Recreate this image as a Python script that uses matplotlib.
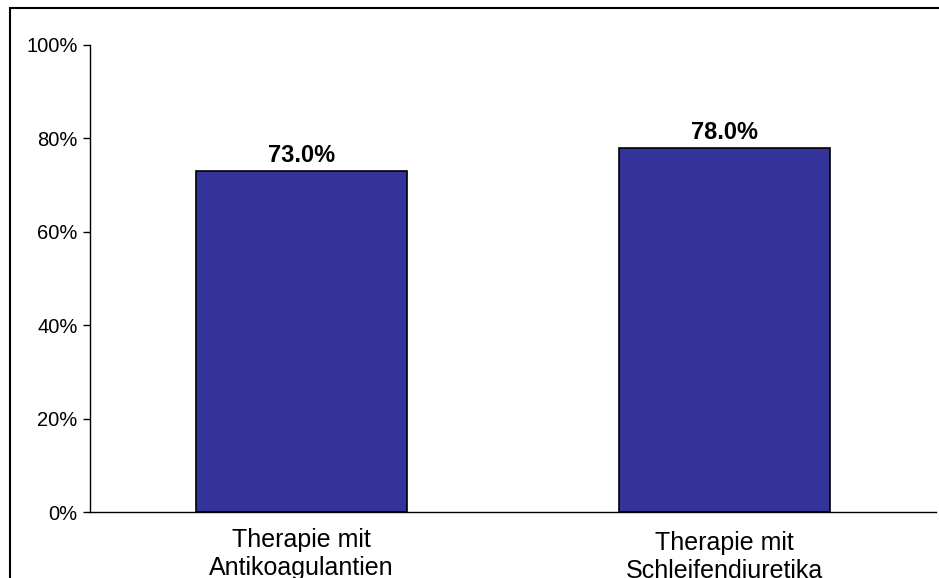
import matplotlib.pyplot as plt
from matplotlib.patches import Rectangle
from matplotlib.ticker import FuncFormatter
from matplotlib.transforms import ScaledTranslation

plt.rcParams['font.family'] = ['Liberation Sans', 'DejaVu Sans']

kategorien = ['Therapie mit\nAntikoagulantien', 'Therapie mit\nSchleifendiuretika']
anteile = [73.0, 78.0]            # in Prozent
y_ticks = [0, 20, 40, 60, 80, 100]

fig = plt.figure(figsize=(9.39, 5.78), dpi=100)
ax = fig.add_axes([90 / 939, 66 / 578, 846 / 939, 467 / 578])

x = range(len(kategorien))
bars = ax.bar(x, anteile, width=0.5, color='#333399', edgecolor='black', linewidth=1.2)

for b, v in zip(bars, anteile):
    ax.annotate(f'{v:.1f}%', (b.get_x() + b.get_width() / 2, v),
                xytext=(0, 6.5), textcoords='offset points',
                ha='center', va='baseline', fontsize=17, fontweight='bold')

ax.set_xlim(-0.5, 1.5)
ax.set_ylim(0, 100)
ax.set_xticks(list(x))
ax.set_xticklabels(kategorien, fontsize=18, linespacing=1.2)
ax.set_yticks(y_ticks)
ax.yaxis.set_major_formatter(FuncFormatter(lambda v, p: f'{v:.0f}%'))
ax.tick_params(axis='y', labelsize=14.5, length=5, width=1.0, pad=4, direction='out')
ax.tick_params(axis='x', length=0, pad=11.5)

# zweite Beschriftung sitzt im Original etwas tiefer
lbl = ax.get_xticklabels()[1]
lbl.set_transform(lbl.get_transform() + ScaledTranslation(0, -3 / 100, fig.dpi_scale_trans))

for s in ['top', 'right']:
    ax.spines[s].set_visible(False)
for s in ['left', 'bottom']:
    ax.spines[s].set_linewidth(1.0)

# Rahmen um das ganze Diagramm
rahmen = Rectangle((9.5 / 939, -0.05), 1.2, 1 - 7.5 / 578 + 0.05, transform=fig.transFigure,
                   fill=False, edgecolor='black', linewidth=1.5, clip_on=False)
fig.patches.append(rahmen)

fig.savefig('out.png', dpi=100)
